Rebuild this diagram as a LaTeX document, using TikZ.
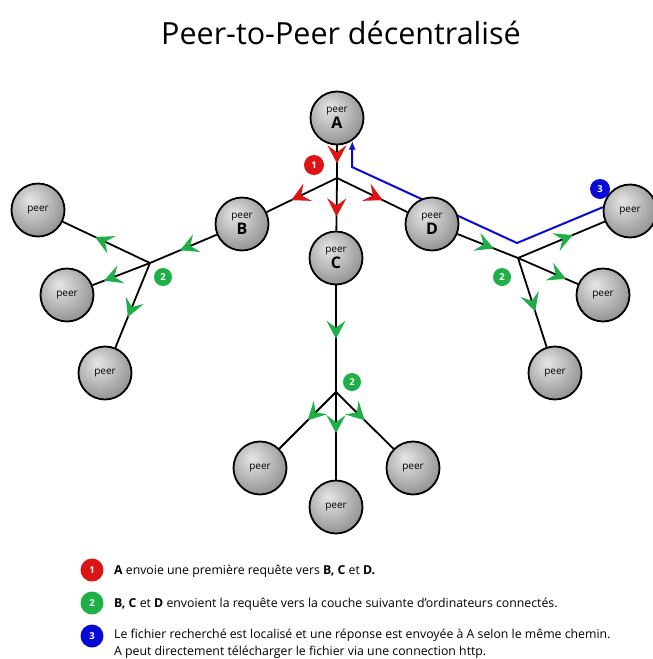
\documentclass[tikz,border=0pt]{standalone}
\usepackage{fontspec}
\setmainfont{Open Sans}
\usetikzlibrary{arrows.meta,decorations.markings}
\pgfdeclarelayer{bg}
\pgfsetlayers{bg,main}
\definecolor{rd}{RGB}{220,20,20}
\definecolor{gr}{RGB}{30,175,70}
\definecolor{bl}{RGB}{10,10,215}
\pgfdeclareradialshading{peerball}{\pgfpoint{-8bp}{10bp}}{color(0bp)=(black!10); color(14bp)=(black!24); color(30bp)=(black!42); color(45bp)=(black!58); color(60bp)=(black!65)}
\begin{document}
\begin{tikzpicture}[x=1pt,y=-1pt,
  peer/.style={circle,draw=black,line width=1.8pt,minimum size=53pt,inner sep=0pt,
    shading=peerball,align=center,font=\fontsize{10}{10}\selectfont},
  conn/.style={draw=black,line width=1.8pt},
  redarr/.style={postaction={decorate,decoration={markings,
    mark=at position #1 with {\arrow{Stealth[length=18pt,width=19pt,inset=7pt,color=rd]}}}}},
  grarr/.style={postaction={decorate,decoration={markings,
    mark=at position #1 with {\arrow{Stealth[length=18pt,width=19pt,inset=7pt,color=gr]}}}}},
  badge/.style={circle,fill=#1,text=white,inner sep=0pt,minimum size=20pt,
    font=\fontsize{9.5}{10}\selectfont\bfseries},
  legtext/.style={anchor=west,inner sep=0pt,font=\fontsize{12.3}{14}\selectfont}]
\useasboundingbox (0,0) rectangle (653,659);
\begin{pgfonlayer}{bg}
\fill[white] (0,0) rectangle (653,659);
\end{pgfonlayer}

% title
\node[font=\fontsize{30.5}{32}\selectfont] (title) at (341,33) {Peer-to-Peer décentralisé};

% peers
\node[peer] (A) at (337,118) {peer\\[1pt]{\fontsize{16}{16}\selectfont\bfseries A}};
\node[peer] (B) at (242,224) {peer\\[1pt]{\fontsize{16}{16}\selectfont\bfseries B}};
\node[peer] (C) at (336,258) {peer\\[1pt]{\fontsize{16}{16}\selectfont\bfseries C}};
\node[peer] (D) at (432,224) {peer\\[1pt]{\fontsize{16}{16}\selectfont\bfseries D}};
\node[peer] (L1) at (38,210) {peer};
\node[peer] (L2) at (67,295) {peer};
\node[peer] (L3) at (105,373) {peer};
\node[peer] (R1) at (630,211) {peer};
\node[peer] (R2) at (603,295) {peer};
\node[peer] (R3) at (555,373) {peer};
\node[peer] (M1) at (260,468) {peer};
\node[peer] (M2) at (336,507) {peer};
\node[peer] (M3) at (413,468) {peer};

% hubs
\coordinate (h1) at (337,178);
\coordinate (hL) at (150,263);
\coordinate (hC) at (336,392);
\coordinate (hR) at (518,258);
\coordinate (cb1) at (517,243);
\coordinate (cb2) at (352,167);

\begin{pgfonlayer}{bg}
  % reply path
  \draw[bl,line width=2pt,-{Latex[length=9pt,width=7pt]}] (R1.172) -- (cb1) -- (cb2) -- (A.-56);
  % first layer
  \draw[conn,redarr=0.55] (A) -- (h1);
  \draw[conn,redarr=0.65] (h1) -- (B);
  \draw[conn,redarr=0.73] (h1) -- (C);
  \draw[conn,redarr=0.65] (h1) -- (D);
  % left
  \draw[conn,grarr=0.55] (B) -- (hL);
  \draw[conn,grarr=0.63] (hL) -- (L1);
  \draw[conn,grarr=0.8] (hL) -- (L2);
  \draw[conn,grarr=0.64] (hL) -- (L3);
  % centre
  \draw[conn,grarr=0.5] (C) -- (hC);
  \draw[conn,grarr=0.5] (hC) -- (M1);
  \draw[conn,grarr=0.47] (hC) -- (M2);
  \draw[conn,grarr=0.5] (hC) -- (M3);
  % right
  \draw[conn,grarr=0.6] (D) -- (hR);
  \draw[conn,grarr=0.63] (hR) -- (R1);
  \draw[conn,grarr=0.8] (hR) -- (R2);
  \draw[conn,grarr=0.6] (hR) -- (R3);
\end{pgfonlayer}

% step badges
\node[badge=rd] (s1) at (314,165) {1};
\node[badge=gr,minimum size=18pt] (s2l) at (163,277) {2};
\node[badge=gr,minimum size=18pt] (s2c) at (352,382) {2};
\node[badge=gr,minimum size=18pt] (s2r) at (502,277) {2};
\node[badge=bl] (s3) at (600,189) {3};

% legend
\node[badge=rd,minimum size=23pt] (k1) at (92,570) {1};
\node[badge=gr,minimum size=23pt] (k2) at (92,603) {2};
\node[badge=bl,minimum size=23pt] (k3) at (92,636) {3};
\node[legtext] (t1) at (114,571) {\textbf{A} envoie une première requête vers \textbf{B, C} et \textbf{D.}};
\node[legtext] (t2) at (114,604) {\textbf{B, C} et \textbf{D} envoient la requête vers la couche suivante d’ordinateurs connectés.};
\node[legtext] (t3) at (114,635) {Le fichier recherché est localisé et une réponse est envoyée à A selon le même chemin.};
\node[legtext] (t4) at (114,652) {A peut directement télécharger le fichier via une connection http.};
\end{tikzpicture}
\end{document}
